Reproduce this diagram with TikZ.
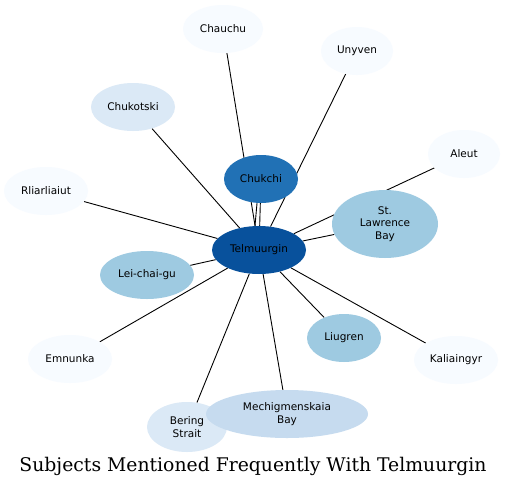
\documentclass[tikz,border=0pt]{standalone}
\usepackage{fontspec}
\newfontfamily\lbl{DejaVu Sans}
\newfontfamily\ttl{DejaVu Serif}
\usetikzlibrary{shapes.geometric}
\pgfdeclarelayer{bg}
\pgfsetlayers{bg,main}
\definecolor{c0}{HTML}{F7FBFF}
\definecolor{c1}{HTML}{DBE9F6}
\definecolor{c2}{HTML}{C6DBEF}
\definecolor{c3}{HTML}{9ECAE1}
\definecolor{c4}{HTML}{2171B5}
\definecolor{c5}{HTML}{08519C}
\tikzset{
  ell/.style={ellipse, inner sep=0pt, minimum height=48pt, font=\lbl\fontsize{10.5}{12.6}\selectfont, align=center, draw=none},
  conn/.style={draw=black, line width=0.9pt}
}
\begin{document}
\begin{tikzpicture}[x=1pt,y=-1pt]
\useasboundingbox (0,0) rectangle (506,488);
\node[ell, fill=c0, minimum width=80pt] (chauchu) at (223,29) {Chauchu};
\node[ell, fill=c0, minimum width=72pt] (unyven) at (357,51) {Unyven};
\node[ell, fill=c1, minimum width=84pt] (chukotski) at (133,107) {Chukotski};
\node[ell, fill=c0, minimum width=72pt] (aleut) at (464,154) {Aleut};
\node[ell, fill=c0, minimum width=84pt] (rliar) at (46,191) {Rliarliaiut};
\node[ell, fill=c4, minimum width=74pt] (chukchi) at (261,179) {Chukchi};
\node[ell, fill=c3, minimum width=106pt, minimum height=68pt] (stl) at (385,224) {St.\\Lawrence\\Bay};
\node[ell, fill=c5, minimum width=94pt] (tel) at (259,250) {Telmuurgin};
\node[ell, fill=c3, minimum width=94pt] (lei) at (147,275) {Lei-chai-gu};
\node[ell, fill=c0, minimum width=84pt] (emn) at (70,359) {Emnunka};
\node[ell, fill=c3, minimum width=74pt] (liu) at (344,338) {Liugren};
\node[ell, fill=c0, minimum width=84pt] (kal) at (456,360) {Kaliaingyr};
\node[ell, fill=c1, minimum width=80pt, minimum height=50pt] (ber) at (187,427) {Bering\\Strait};
\node[ell, fill=c2, minimum width=162pt] (mech) at (287,414) {Mechigmenskaia\\Bay};
\node[font=\ttl\fontsize{18.8}{22}\selectfont] (title) at (253,466) {Subjects Mentioned Frequently With Telmuurgin};
\begin{pgfonlayer}{bg}
\fill[white] (0,0) rectangle (506,488);
\draw[conn] (tel) -- (chauchu);
\draw[conn] (tel) -- (unyven);
\draw[conn] (tel) -- (chukotski);
\draw[conn] (tel) -- (aleut);
\draw[conn] (tel) -- (rliar);
\draw[conn] (tel) -- (chukchi);
\draw[conn] ([xshift=-4pt]tel.north) -- ([xshift=-4pt]chukchi.south);
\draw[conn] (tel) -- (stl);
\draw[conn] (tel) -- (lei);
\draw[conn] (tel) -- (emn);
\draw[conn] (tel) -- (liu);
\draw[conn] (tel) -- (kal);
\draw[conn] (tel) -- (ber);
\draw[conn] (tel) -- (mech);
\end{pgfonlayer}
\end{tikzpicture}
\end{document}
